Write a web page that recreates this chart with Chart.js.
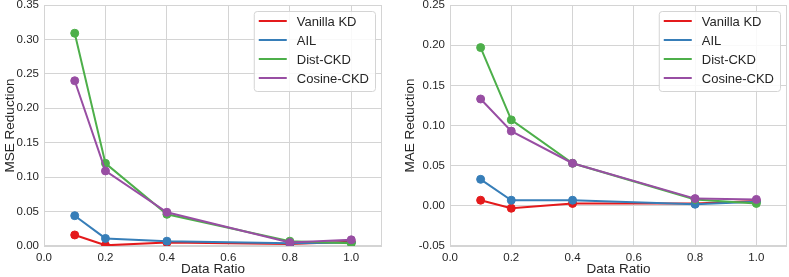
<!DOCTYPE html>
<html>
<head>
<meta charset="utf-8">
<script src="https://cdn.jsdelivr.net/npm/chart.js@4"></script>
<style>
  body { margin: 0; background: #fff; }
  #wrap { position: relative; width: 789px; height: 277px; background: #fff; }
  .box { position: absolute; top: 0; height: 277px; }
</style>
</head>
<body>
<div id="wrap">
  <div class="box" style="left:0;width:395px"><canvas id="chartMSE"></canvas></div>
  <div class="box" style="left:395px;width:394px"><canvas id="chartMAE"></canvas></div>
</div>
<script>
// datos
const ratios = [0.1, 0.2, 0.4, 0.8, 1.0];
const metodos = ['Vanilla KD', 'AIL', 'Dist-CKD', 'Cosine-CKD'];
const colores = ['#e41a1c', '#377eb8', '#4daf4a', '#984ea3'];

const mseVanilla = [0.016, 0.001, 0.005, 0.003, 0.006];
const mseAIL     = [0.044, 0.011, 0.007, 0.004, 0.005];
const mseDist    = [0.309, 0.120, 0.046, 0.007, 0.004];
const mseCosine  = [0.240, 0.109, 0.049, 0.005, 0.009];

const maeVanilla = [0.007, -0.003, 0.003, 0.003, 0.006];
const maeAIL     = [0.033, 0.007, 0.007, 0.002, 0.005];
const maeDist    = [0.197, 0.107, 0.053, 0.008, 0.003];
const maeCosine  = [0.133, 0.093, 0.053, 0.009, 0.008];

const FUENTE = "'Liberation Sans', Arial, sans-serif";
const GRIS = '#d4d4d4';
const TEXTO = '#262626';

// formato sin "-0.00"
const fmt = (v, d) => (Math.abs(v) < 1e-9 ? 0 : v).toFixed(d);

// marco del area y leyenda dentro del grafico
const marcoYLeyenda = {
  id: 'marcoYLeyenda',
  beforeDatasetsDraw(chart) {
    const { ctx, chartArea: a } = chart;
    ctx.save();
    ctx.strokeStyle = GRIS;
    ctx.lineWidth = 1;
    ctx.strokeRect(a.left + 0.5, a.top + 0.5, a.right - a.left - 1, a.bottom - a.top - 1);
    ctx.restore();
  },
  afterDraw(chart) {
    const { ctx, chartArea: a } = chart;
    const ds = chart.data.datasets;
    ctx.save();
    ctx.font = '13px ' + FUENTE;
    const anchoTxt = Math.max(...ds.map(d => ctx.measureText(d.label).width));
    const w = 5 + 28 + 10 + anchoTxt + 6;
    const h = 80;
    const x = a.right - 7 - w;
    const y = a.top + 6;
    ctx.fillStyle = 'rgba(255,255,255,0.85)';
    ctx.strokeStyle = GRIS;
    ctx.lineWidth = 1;
    ctx.beginPath();
    ctx.roundRect(x + 0.5, y + 0.5, w, h, 3);
    ctx.fill();
    ctx.stroke();
    ds.forEach((d, i) => {
      const cy = y + 10 + i * 19;
      ctx.strokeStyle = d.borderColor;
      ctx.lineWidth = 2;
      ctx.beginPath();
      ctx.moveTo(x + 5, cy);
      ctx.lineTo(x + 33, cy);
      ctx.stroke();
      ctx.fillStyle = TEXTO;
      ctx.textBaseline = 'middle';
      ctx.fillText(d.label, x + 43, cy + 1);
    });
    ctx.restore();
  }
};

const sinPadding = s => { s.paddingTop = 0; s.paddingBottom = 0; s.paddingLeft = 0; s.paddingRight = 0; };

function crearGrafica(id, series, cfg) {
  const datasets = series.map((vals, i) => ({
    label: metodos[i],
    data: ratios.map((r, j) => ({ x: r, y: vals[j] })),
    borderColor: colores[i],
    backgroundColor: colores[i],
    borderWidth: 2,
    pointRadius: 4,
    pointBorderWidth: 1,
    pointHoverRadius: 4,
    order: series.length - i
  }));

  return new Chart(document.getElementById(id), {
    type: 'line',
    data: { datasets },
    options: {
      responsive: true,
      maintainAspectRatio: false,
      animation: false,
      layout: { autoPadding: false, padding: { left: 0, right: cfg.padDer, top: 5, bottom: 0 } },
      plugins: { legend: { display: false }, tooltip: { enabled: false } },
      scales: {
        x: {
          type: 'linear',
          min: 0, max: 1.1,
          grid: { color: GRIS, drawTicks: false },
          border: { display: false },
          ticks: {
            stepSize: 0.2, includeBounds: false, padding: 5,
            color: TEXTO, font: { family: FUENTE, size: 11.5 },
            callback: v => fmt(v, 1)
          },
          title: { display: true, text: 'Data Ratio', color: TEXTO,
                   font: { family: FUENTE, size: 13.5 }, padding: { top: 0, bottom: 0 } },
          afterFit: s => { sinPadding(s); s.height = 31; }
        },
        y: {
          min: cfg.min, max: cfg.max,
          grid: { color: GRIS, drawTicks: false },
          border: { display: false },
          ticks: {
            stepSize: 0.05, padding: 5,
            color: TEXTO, font: { family: FUENTE, size: 11.5 },
            callback: v => fmt(v, 2)
          },
          title: { display: true, text: cfg.titulo, color: TEXTO,
                   font: { family: FUENTE, size: 13.5 }, padding: { top: cfg.padTitulo, bottom: 0 } },
          afterFit: s => { sinPadding(s); s.width = cfg.anchoY; }
        }
      }
    },
    plugins: [marcoYLeyenda]
  });
}

crearGrafica('chartMSE', [mseVanilla, mseAIL, mseDist, mseCosine],
  { min: 0, max: 0.35, titulo: 'MSE Reduction', anchoY: 44, padDer: 13, padTitulo: 2 });
crearGrafica('chartMAE', [maeVanilla, maeAIL, maeDist, maeCosine],
  { min: -0.05, max: 0.25, titulo: 'MAE Reduction', anchoY: 55, padDer: 2, padTitulo: 7 });
</script>
</body>
</html>
